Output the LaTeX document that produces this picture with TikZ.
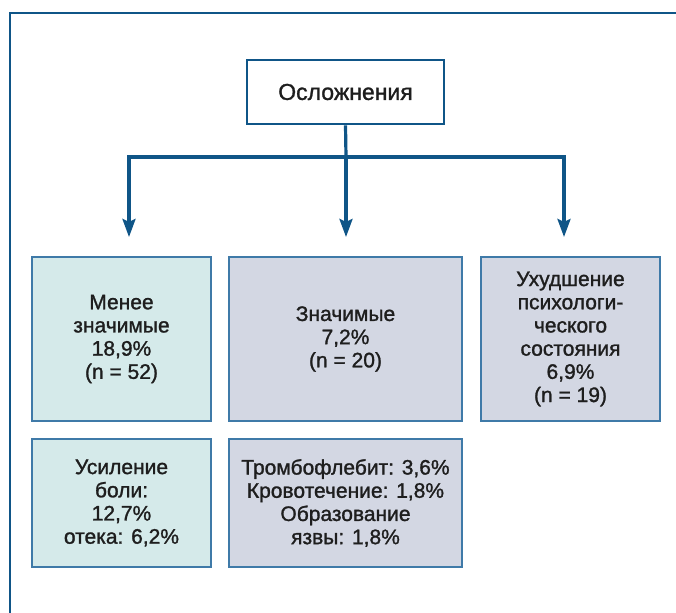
\documentclass[tikz,border=0pt]{standalone}
\usepackage{fontspec}
\setmainfont{Liberation Sans}[BoldFont={Liberation Sans}, BoldFeatures={FakeBold=1.3}]
\usetikzlibrary{arrows.meta}
\definecolor{navy}{HTML}{0F5587}
\definecolor{edgeblue}{HTML}{3F7AA8}
\definecolor{tealfill}{HTML}{D5EAEA}
\definecolor{lavfill}{HTML}{D3D7E3}
\definecolor{txt}{HTML}{1E1E1E}
\tikzset{
  box/.style={draw=edgeblue, line width=1.2pt, align=center, text=txt,
    font=\fontsize{21}{23.2}\selectfont\bfseries, inner sep=0pt},
  tealbox/.style={box, fill=tealfill},
  lavbox/.style={box, fill=lavfill},
  topbox/.style={draw=navy, line width=2.8pt, fill=white, align=center, text=txt,
    font=\fontsize{23}{25}\selectfont\bfseries, minimum width=197pt, minimum height=64pt},
  conn/.style={draw=navy, line width=3.2pt},
  arr/.style={conn, -{Stealth[length=18pt,width=13pt,inset=3pt]}}
}
\begin{document}
\begin{tikzpicture}[x=1pt,y=-1pt]
\useasboundingbox (0,0) rectangle (676,612);
\begin{scope}
\clip (0,0) rectangle (676,612);
\draw[navy, line width=2.8pt] (10,720) -- (10,13) -- (720,13);
\end{scope}
\node[topbox] (top) at (345.5,92) {Осложнения};
\node[tealbox, minimum width=179pt, minimum height=164pt] (b1) at (121.5,339)
  {Менее\\значимые\\18,9\%\\(n = 52)};
\node[lavbox, minimum width=233pt, minimum height=164pt] (b2) at (345.5,339)
  {Значимые\\7,2\%\\(n = 20)};
\node[lavbox, minimum width=179pt, minimum height=164pt] (b3) at (570.5,339)
  {Ухудшение\\психологи-\\ческого\\состояния\\6,9\%\\(n = 19)};
\node[tealbox, minimum width=179pt, minimum height=128pt] (b4) at (121.5,503)
  {Усиление\\боли:\\12,7\%\\отека: 6,2\%};
\node[lavbox, minimum width=233pt, minimum height=128pt] (b5) at (345.5,503)
  {Тромбофлебит: 3,6\%\\Кровотечение: 1,8\%\\Образование\\язвы: 1,8\%};
\coordinate (j) at (346,157);
\coordinate (h1) at (129,157);
\coordinate (h3) at (564,157);
\coordinate (t1) at (129,237);
\coordinate (t2) at (346,237);
\coordinate (t3) at (564,237);
\draw[conn] (top.south) -- (j);
\draw[conn, line cap=rect] (h1) -- (h3);
\draw[arr] (h1) -- (t1);
\draw[arr] (j) -- (t2);
\draw[arr] (h3) -- (t3);
\end{tikzpicture}
\end{document}
